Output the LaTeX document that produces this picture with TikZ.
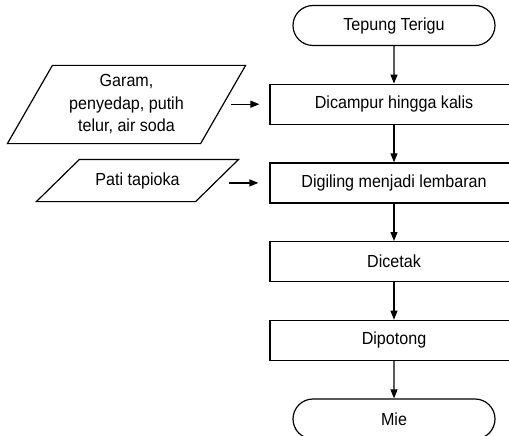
\documentclass[tikz,border=0pt]{standalone}
\usepackage{fontspec}
\setmainfont[FakeStretch=0.92]{Liberation Sans}
\usetikzlibrary{positioning,shapes.misc,arrows.meta}

\begin{document}
\begin{tikzpicture}[x=1pt,y=1pt,node distance=37.5pt,
  every node/.style={font=\fontsize{17.5}{22.5}\selectfont,line width=1.2pt},
  term/.style={draw,rounded rectangle,minimum width=202pt,minimum height=40pt,inner sep=0pt},
  proc/.style={draw,rectangle,minimum width=248pt,minimum height=40pt,inner sep=0pt},
  inp/.style={inner sep=0pt,align=center},
  garis/.style={line width=1.2pt,line join=miter},
  arr/.style={line width=1.2pt,-{Triangle[length=9pt,width=7pt]}}]
\useasboundingbox (0,0) rectangle (509,-436);
\node[term] (tepung) at (394,-25.5) {Tepung Terigu};
\node[proc,below=of tepung] (campur) {Dicampur hingga kalis};
\node[proc,below=of campur] (giling) {Digiling menjadi lembaran};
\node[proc,below=of giling] (cetak) {Dicetak};
\node[proc,below=of cetak] (potong) {Dipotong};
\node[term,below=of potong] (mie) {Mie};
\node[inp,minimum width=192pt,minimum height=77pt] (bahan) at (126.5,-104.5) {Garam,\\penyedap, putih\\telur, air soda};
\node[inp,minimum width=158pt,minimum height=41pt] (pati) at (137.5,-180.5) {Pati tapioka};
\draw[garis] ([xshift=22.5pt]bahan.north west) -- ([xshift=22.5pt]bahan.north east)
  -- ([xshift=-22.5pt]bahan.south east) -- ([xshift=-22.5pt]bahan.south west) -- cycle;
\draw[garis] ([xshift=21.5pt]pati.north west) -- ([xshift=21.5pt]pati.north east)
  -- ([xshift=-21.5pt]pati.south east) -- ([xshift=-21.5pt]pati.south west) -- cycle;
\coordinate[left=38pt of campur.west] (dariBahan);
\coordinate[left=40pt of giling.west] (dariPati);
\draw[arr] (tepung) -- (campur);
\draw[arr] (campur) -- (giling);
\draw[arr] (giling) -- (cetak);
\draw[arr] (cetak) -- (potong);
\draw[arr] (potong) -- (mie);
\draw[arr,shorten >=10pt] (dariBahan) -- (campur.west);
\draw[arr,shorten >=11pt] (dariPati) -- (giling.west);
\end{tikzpicture}
\end{document}
